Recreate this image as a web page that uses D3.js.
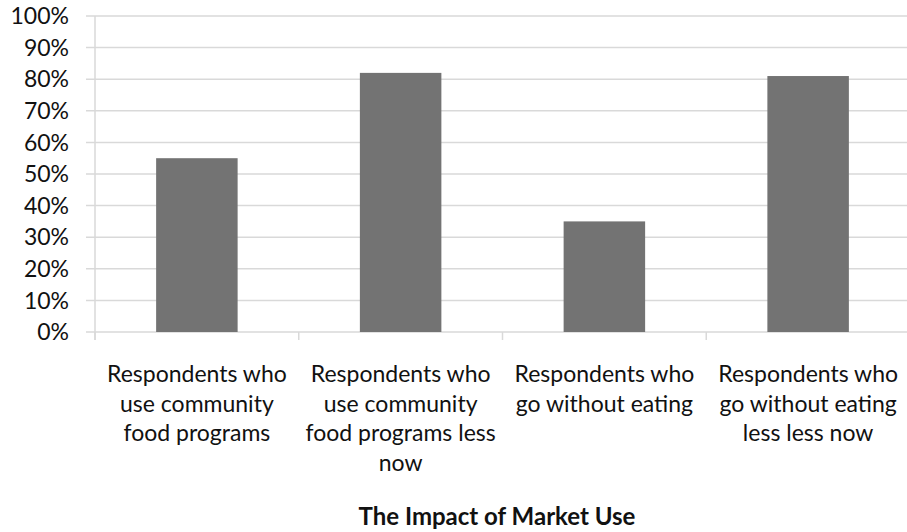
<!DOCTYPE html>
<html>
<head>
<meta charset="utf-8">
<script src="https://cdn.jsdelivr.net/npm/d3@7"></script>
<style>
  body { margin: 0; background: #fff; }
  svg { display: block; font-family: Lato, "Open Sans", sans-serif; }
</style>
</head>
<body>
<div id="chart"></div>
<script>
const categories = [
  'Respondents who use community food programs',
  'Respondents who use community food programs less now',
  'Respondents who go without eating',
  'Respondents who go without eating less less now'
];
const values = [0.55, 0.82, 0.35, 0.81];
const yTicks = [0, 0.1, 0.2, 0.3, 0.4, 0.5, 0.6, 0.7, 0.8, 0.9, 1.0];
const chartTitle = 'The Impact of Market Use';

const W = 907, H = 532;
const margin = { top: 16, right: -3, bottom: 200, left: 95 };
const width = W - margin.left - margin.right;
const height = H - margin.top - margin.bottom;

const svg = d3.select('#chart').append('svg')
  .attr('width', W)
  .attr('height', H);

const g = svg.append('g')
  .attr('transform', `translate(${margin.left},${margin.top})`);

const x = d3.scaleBand()
  .domain(categories)
  .range([0, width])
  .paddingInner(0.6)
  .paddingOuter(0.3);

const y = d3.scaleLinear()
  .domain([0, 1])
  .range([height, 0]);

// 网格线
g.selectAll('.grid')
  .data(yTicks)
  .enter()
  .append('line')
  .attr('x1', -9)
  .attr('x2', width)
  .attr('y1', d => y(d))
  .attr('y2', d => y(d))
  .attr('stroke', '#d9d9d9')
  .attr('stroke-width', 1.5);

// y 轴标签
g.selectAll('.ylab')
  .data(yTicks)
  .enter()
  .append('text')
  .attr('x', -26)
  .attr('y', d => y(d))
  .attr('dy', '0.36em')
  .attr('text-anchor', 'end')
  .style('font-size', '23px')
  .attr('fill', '#111')
  .text(d => d3.format('.0%')(d));

// y 轴线
g.append('line')
  .attr('x1', 0).attr('x2', 0)
  .attr('y1', 0).attr('y2', height + 8)
  .attr('stroke', '#d9d9d9')
  .attr('stroke-width', 1.5);

// x 轴刻度
const boundaries = d3.range(categories.length + 1).map(i => i * width / categories.length);
g.selectAll('.xtick')
  .data(boundaries)
  .enter()
  .append('line')
  .attr('x1', d => d).attr('x2', d => d)
  .attr('y1', height).attr('y2', height + 8)
  .attr('stroke', '#d9d9d9')
  .attr('stroke-width', 1.5);

// 柱子
g.selectAll('.bar')
  .data(values)
  .enter()
  .append('rect')
  .attr('x', (d, i) => x(categories[i]))
  .attr('y', d => y(d))
  .attr('width', x.bandwidth())
  .attr('height', d => height - y(d))
  .attr('fill', '#737373');

// x 轴分类标签（自动换行）
g.selectAll('.xlab')
  .data(categories)
  .enter()
  .append('text')
  .attr('text-anchor', 'middle')
  .attr('transform', d => `translate(${x(d) + x.bandwidth() / 2},${height + 50})`)
  .style('font-size', '23px')
  .attr('fill', '#111')
  .each(function(d) {
    const text = d3.select(this);
    const words = d.split(' ');
    const maxW = width / categories.length - 8;
    let line = [];
    let lineNo = 0;
    let tspan = text.append('tspan').attr('x', 0).attr('y', 0);
    words.forEach(w => {
      line.push(w);
      tspan.text(line.join(' '));
      if (tspan.node().getComputedTextLength() > maxW && line.length > 1) {
        line.pop();
        tspan.text(line.join(' '));
        line = [w];
        lineNo++;
        tspan = text.append('tspan').attr('x', 0).attr('y', lineNo * 29.7).text(w);
      }
    });
  });

// 标题
svg.append('text')
  .attr('x', 497)
  .attr('y', 525)
  .attr('text-anchor', 'middle')
  .style('font-size', '24px')
  .style('font-weight', 'bold')
  .attr('fill', '#111')
  .text(chartTitle);
</script>
</body>
</html>
